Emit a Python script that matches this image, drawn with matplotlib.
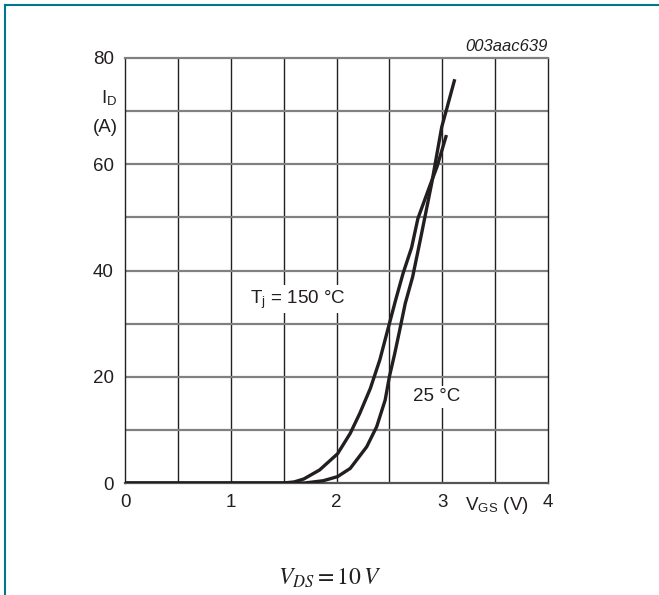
import matplotlib
matplotlib.use("Agg")
import matplotlib.pyplot as plt
from matplotlib.lines import Line2D

plt.rcParams['font.family'] = ['Liberation Sans', 'DejaVu Sans']
plt.rcParams['mathtext.fontset'] = 'stix'

# Data
vgs_150 = [0.0, 1.0, 1.50, 1.60, 1.69, 1.84, 2.01, 2.13, 2.22, 2.32, 2.41, 2.48,
           2.56, 2.63, 2.71, 2.77, 2.88, 2.95, 3.035]
id_150 = [0.0, 0.0, 0.0, 0.2, 0.75, 2.45, 5.5, 9.35, 13.1, 17.8, 23.2, 28.5,
          34.5, 39.5, 44.3, 49.8, 55.8, 59.5, 65.2]

vgs_25 = [0.0, 1.0, 1.70, 1.875, 2.01, 2.13, 2.285, 2.38, 2.46, 2.50, 2.55, 2.60,
          2.65, 2.72, 2.80, 2.90, 2.995, 3.05, 3.114]
id_25 = [0.0, 0.0, 0.0, 0.43, 1.2, 2.75, 6.8, 10.6, 15.6, 20.0, 24.3, 29.0,
         33.8, 38.8, 46.5, 56.4, 67.0, 71.0, 75.7]

x_ticks = [0, 1, 2, 3, 4]
y_ticks = [0, 20, 40, 60, 80]

W, H = 659, 595
fig = plt.figure(figsize=(W / 100, H / 100), dpi=100)
fig.patch.set_facecolor('white')

left, right, bottom, top = 125 / W, 548 / W, (H - 483) / H, (H - 58) / H
ax = fig.add_axes([left, bottom, right - left, top - bottom])
ax.set_xlim(0, 4)
ax.set_ylim(0, 80)

# grid
for xv in [0.5 * i for i in range(1, 8)]:
    ax.axvline(xv, color='#231f20', lw=1.0, zorder=1)
for yv in range(10, 80, 10):
    ax.axhline(yv, color='#808080', lw=1.6, zorder=1)

for side in ['left', 'right', 'bottom']:
    ax.spines[side].set_color('#231f20')
    ax.spines[side].set_linewidth(1.0)
ax.spines['top'].set_color('#808080')
ax.spines['top'].set_linewidth(1.6)
ax.spines['bottom'].set_color('#555555')
ax.spines['bottom'].set_linewidth(1.6)

ax.plot(vgs_150, id_150, color='#231f20', lw=2.4, zorder=3, solid_joinstyle='round')
ax.plot(vgs_25, id_25, color='#231f20', lw=2.4, zorder=3, solid_joinstyle='round')

ax.set_xticks(x_ticks)
ax.set_yticks(y_ticks)
ax.tick_params(length=0, labelsize=13.5, colors='#231f20', pad=8)

# labels
ax.text(-0.07, 72.5, r'I$_{\mathregular{D}}$', ha='right', va='center', fontsize=13.5,
        color='#231f20')
ax.text(-0.07, 67.0, '(A)', ha='right', va='center', fontsize=13.5, color='#231f20')
ax.text(3.52, -4.3, r'V$_{\mathregular{GS}}$ (V)', ha='center', va='center', fontsize=13.5,
        color='#231f20')
ax.text(4.0, 82.2, '003aac639', ha='right', va='center', fontsize=12,
        style='italic', color='#231f20')

ax.text(1.18, 34.6, r'T$_{\mathregular{j}}$ = 150 °C', ha='left', va='center',
        fontsize=13.5, color='#231f20', zorder=4,
        bbox=dict(facecolor='white', edgecolor='none', pad=2))
ax.text(2.72, 16.2, '25 °C', ha='left', va='center', fontsize=13.5,
        color='#231f20', zorder=4,
        bbox=dict(facecolor='white', edgecolor='none', pad=2))

fig.text(330 / W, 1 - 578 / H, r'$V_{DS} = 10\,V$', ha='center', va='center',
         fontsize=17, color='#231f20')

# teal frame
teal = '#00788a'
fig.add_artist(Line2D([4.5 / W, 1.0], [1 - 4.5 / H, 1 - 4.5 / H], color=teal, lw=1.5,
                      transform=fig.transFigure))
fig.add_artist(Line2D([4.5 / W, 4.5 / W], [0, 1 - 4.5 / H], color=teal, lw=1.5,
                      transform=fig.transFigure))

fig.savefig('out.png', dpi=100, facecolor='white')
